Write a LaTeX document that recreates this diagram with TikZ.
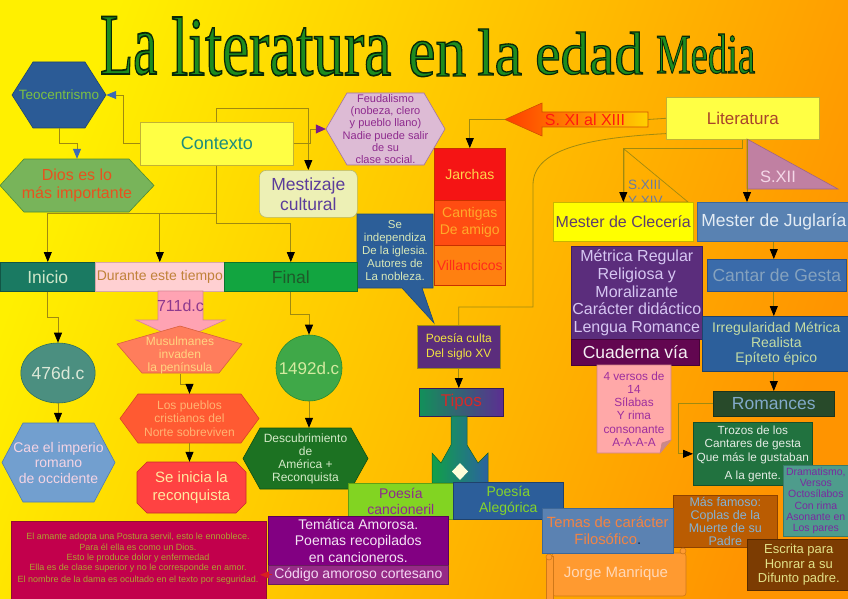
\documentclass[tikz,border=0pt]{standalone}
\usepackage{fontspec}
\setmainfont{Liberation Sans}
\newfontfamily\titlefont{Liberation Serif}
\usetikzlibrary{arrows.meta,shapes.geometric,calc}
\newcommand{\fsz}[2]{\fontsize{#1}{#2}\selectfont}
\newcommand{\tword}[6]{%
 \node[anchor=base west,inner sep=0pt,text=titleG] (#6) at (#1,#2) {\resizebox{#3pt}{#4pt}{\titlefont\fontsize{80}{90}\selectfont\special{pdf:literal direct 2 Tr 1.6 w 0.03 0.16 0.03 RG}\vphantom{l}#5\special{pdf:literal direct 0 Tr}}};}
\definecolor{bgY}{HTML}{FFF000}\definecolor{bgO}{HTML}{FF9400}
\definecolor{lineC}{HTML}{A08A10}
\definecolor{titleG}{HTML}{1E8C1E}
\definecolor{teoF}{HTML}{2B5B96}\definecolor{teoD}{HTML}{1E4470}\definecolor{teoT}{HTML}{7DC142}
\definecolor{diosF}{HTML}{78B45A}\definecolor{diosD}{HTML}{4E8A34}\definecolor{diosT}{HTML}{E8521E}
\definecolor{ctxF}{HTML}{FFFF44}\definecolor{ctxD}{HTML}{C2B234}\definecolor{ctxT}{HTML}{1C8C7C}
\definecolor{feuF}{HTML}{DDBBD5}\definecolor{feuD}{HTML}{A070A0}\definecolor{feuT}{HTML}{8E2A8E}
\definecolor{mesF}{HTML}{EDF0B5}\definecolor{mesD}{HTML}{B8B86A}\definecolor{mesT}{HTML}{5B3C9B}
\definecolor{jarF}{HTML}{F51414}\definecolor{jarD}{HTML}{C83000}\definecolor{jarT}{HTML}{FFD54A}
\definecolor{cgF}{HTML}{FF4C12}\definecolor{cgT}{HTML}{FFAA2A}
\definecolor{vilF}{HTML}{FF8010}\definecolor{vilT}{HTML}{FF2A1A}
\definecolor{seiF}{HTML}{2C5E98}\definecolor{seiD}{HTML}{1E4A7A}\definecolor{seiT}{HTML}{D8E8B8}
\definecolor{iniF}{HTML}{1A7A62}\definecolor{iniT}{HTML}{CFE6C8}
\definecolor{durF}{HTML}{FFD0D2}\definecolor{durD}{HTML}{D8A8A8}\definecolor{durT}{HTML}{C0823A}
\definecolor{finF}{HTML}{12A540}\definecolor{finT}{HTML}{1E5A2A}
\definecolor{sevF}{HTML}{FFA3B3}\definecolor{sevD}{HTML}{D88494}\definecolor{sevT}{HTML}{8E3A8E}
\definecolor{musF}{HTML}{FF7D5C}\definecolor{musD}{HTML}{D8603E}\definecolor{musT}{HTML}{FFD480}
\definecolor{pueF}{HTML}{FF5A32}\definecolor{pueD}{HTML}{D84424}\definecolor{pueT}{HTML}{FFB472}
\definecolor{recF}{HTML}{FF4242}\definecolor{recD}{HTML}{C82A2A}\definecolor{recT}{HTML}{FFE8A0}
\definecolor{cAF}{HTML}{4B8F80}\definecolor{cAD}{HTML}{2E6E60}\definecolor{cAT}{HTML}{DCE8D8}
\definecolor{caeF}{HTML}{729FCF}\definecolor{caeD}{HTML}{4E7CB0}\definecolor{caeT}{HTML}{F4D4E4}
\definecolor{cBF}{HTML}{3FA848}\definecolor{cBD}{HTML}{2A8A30}\definecolor{cBT}{HTML}{D4EAA0}
\definecolor{descF}{HTML}{1C7222}\definecolor{descD}{HTML}{0E5012}\definecolor{descT}{HTML}{D4EAC8}
\definecolor{litT}{HTML}{A8442A}
\definecolor{sxiA}{HTML}{FF3C00}\definecolor{sxiB}{HTML}{FFD000}\definecolor{sxiD}{HTML}{D05000}\definecolor{sxiT}{HTML}{FF1A10}
\definecolor{sxiiiT}{HTML}{6A7CA2}
\definecolor{sxiiF}{HTML}{C080A2}\definecolor{sxiiD}{HTML}{A06484}\definecolor{sxiiT}{HTML}{F4D8E8}
\definecolor{cleF}{HTML}{FFFF00}\definecolor{cleD}{HTML}{C8B400}\definecolor{cleT}{HTML}{5E3E6E}
\definecolor{jugF}{HTML}{5982B2}\definecolor{jugD}{HTML}{3E6898}\definecolor{jugT}{HTML}{E4ECF4}
\definecolor{metF}{HTML}{5B2D7C}\definecolor{metD}{HTML}{42205E}\definecolor{metT}{HTML}{D6C6F2}
\definecolor{cuaF}{HTML}{620650}\definecolor{cuaT}{HTML}{F4F0F4}
\definecolor{verF}{HTML}{FFA8A8}\definecolor{verD}{HTML}{D08484}\definecolor{verT}{HTML}{9E2E9E}\definecolor{verK}{HTML}{C88A8A}
\definecolor{ctF}{HTML}{3A6BAA}\definecolor{ctD}{HTML}{2A5088}\definecolor{ctT}{HTML}{85A2BE}
\definecolor{irrF}{HTML}{2C5F9B}\definecolor{irrT}{HTML}{C4DCA4}
\definecolor{romF}{HTML}{284A2A}\definecolor{romT}{HTML}{82AACA}
\definecolor{troF}{HTML}{21723F}\definecolor{troT}{HTML}{E4ECE4}
\definecolor{draF}{HTML}{4E9C8C}\definecolor{draD}{HTML}{3A7A6A}\definecolor{draT}{HTML}{7A2AA0}
\definecolor{masF}{HTML}{BA5C02}\definecolor{masD}{HTML}{8E4200}\definecolor{masT}{HTML}{84B2D4}
\definecolor{escF}{HTML}{7C3C02}\definecolor{escT}{HTML}{E2E288}
\definecolor{temF}{HTML}{5B82B2}\definecolor{temD}{HTML}{3E6898}\definecolor{temT}{HTML}{F28444}\definecolor{temK}{HTML}{1A2A4A}
\definecolor{jorF}{HTML}{FF9A30}\definecolor{jorD}{HTML}{D07818}\definecolor{jorT}{HTML}{FFD8B8}
\definecolor{pcanF}{HTML}{82D422}\definecolor{pcanD}{HTML}{60A014}\definecolor{pcanT}{HTML}{8E2A8E}
\definecolor{paleF}{HTML}{2C5E9A}\definecolor{paleT}{HTML}{86D42A}
\definecolor{temaF}{HTML}{820082}\definecolor{temaT}{HTML}{F4E4F4}
\definecolor{codF}{HTML}{962A86}\definecolor{codT}{HTML}{F4D8F4}
\definecolor{crimF}{HTML}{C2004C}\definecolor{crimD}{HTML}{901030}\definecolor{crimT}{HTML}{ADA232}
\definecolor{tipL}{HTML}{12905A}\definecolor{tipR}{HTML}{5C2E92}\definecolor{tipT}{HTML}{D42A2A}
\definecolor{forkL}{HTML}{10A048}\definecolor{forkR}{HTML}{2C62A0}
\definecolor{pcT}{HTML}{F2E440}
\definecolor{arrBlue}{HTML}{3A6AB8}\definecolor{arrPurple}{HTML}{7A1A8A}\definecolor{arrRed}{HTML}{D82020}
\begin{document}
\begin{tikzpicture}[x=1pt,y=-1pt,
  conn/.style={draw=lineC, line width=0.8pt},
  arr/.style={conn, -{Triangle[length=10pt,width=8pt,color=black]}},
  bx/.style={rectangle, inner sep=0pt, align=center, line width=0.6pt, anchor=north west},
  tx/.style={inner sep=0pt, align=center},
  shp/.style={line width=0.6pt}]
\useasboundingbox (0,0) rectangle (848,599);
\shade[top color=bgY, bottom color=bgO, shading angle=70] (0,0) rectangle (848,599);

% title
\tword{100}{74}{57}{61}{La}{t1}
\tword{171}{75}{220}{58}{literatura}{t2}
\tword{408}{76}{58}{51}{en}{t3}
\tword{477}{75}{45}{46}{la}{t4}
\tword{535}{74}{108}{42}{edad}{t5}
\tword{656}{73}{99}{39}{Media}{t6}

% Teocentrismo
\path[shp, fill=teoF, draw=teoD] (12,95) -- (33,62) -- (85,62) -- (106,95) -- (85,128) -- (33,128) -- cycle;
\node[tx, minimum width=94pt, minimum height=66pt, text=teoT, font=\fsz{13.5}{15}] (teo) at (59,95) {Teocentrismo};
% Dios
\path[shp, fill=diosF, draw=diosD] (0,185.5) -- (24,159) -- (129,159) -- (154,185.5) -- (129,212) -- (24,212) -- cycle;
\node[tx, minimum width=154pt, minimum height=53pt, text=diosT, font=\fsz{16}{17.5}] (dios) at (77,185.5) {Dios es lo\\más importante};
% Contexto
\node[bx, minimum width=153pt, minimum height=43pt, fill=ctxF, draw=ctxD, text=ctxT, font=\fsz{18}{20}] (ctx) at (140,122) {Contexto};
% Feudalismo
\path[shp, fill=feuF, draw=feuD] (326,129) -- (347,93) -- (424,93) -- (445,129) -- (424,165) -- (347,165) -- cycle;
\node[tx, minimum width=119pt, minimum height=72pt, text=feuT, font=\fsz{11}{12.2}] (feud) at (385.5,129) {Feudalismo\\(nobeza, clero\\y pueblo llano)\\Nadie puede salir\\de su\\clase social.};
% Mestizaje
\node[bx, rounded corners=7pt, minimum width=98pt, minimum height=47pt, fill=mesF, draw=mesD, text=mesT, font=\fsz{17.5}{20}] (mest) at (259,170) {Mestizaje\\cultural};
% Jarchas stack
\node[bx, minimum width=71pt, minimum height=52pt, fill=jarF, draw=jarD, text=jarT, font=\fsz{14}{17}] (jar) at (434,148) {Jarchas};
\node[bx, minimum width=71pt, minimum height=45pt, fill=cgF, draw=jarD, text=cgT, font=\fsz{14}{17}] (cant) at (434,200) {Cantigas\\De amigo};
\node[bx, minimum width=71pt, minimum height=40pt, fill=vilF, draw=jarD, text=vilT, font=\fsz{14}{17}] (vil) at (434,245) {Villancicos};
% callout
\path[shp, fill=seiF, draw=seiD] (357,214) -- (433,214) -- (433,288) -- (422,288) -- (434,323) -- (402,288) -- (357,288) -- cycle;
\node[tx, minimum width=76pt, minimum height=74pt, text=seiT, font=\fsz{11.5}{13}] (sei) at (395,251) {Se\\independiza\\De la iglesia.\\Autores de\\La nobleza.};

% band
\node[bx, minimum width=95pt, minimum height=29pt, fill=iniF, draw=iniF!70!black, text=iniT, font=\fsz{17.5}{20}] (ini) at (0,262) {Inicio};
\node[bx, minimum width=129pt, minimum height=29pt, fill=durF, draw=durD, text=durT, font=\fsz{14}{16}] (dur) at (95,262) {Durante este tiempo};
\node[bx, minimum width=133pt, minimum height=29pt, fill=finF, draw=finF!70!black, text=finT, font=\fsz{17.5}{20}] (fin) at (224,262) {Final};

% 711 arrow
\path[shp, fill=sevF, draw=sevD] (158,291) -- (203,291) -- (203,320) -- (225,320) -- (180,340) -- (136,320) -- (158,320) -- cycle;
\node[tx, text=sevT, font=\fsz{16}{18}] (n711) at (180.5,306) {711d.c};
% Musulmanes
\path[shp, fill=musF, draw=musD] (180,326) -- (242,344) -- (219,373) -- (142,373) -- (117,344) -- cycle;
\node[tx, minimum height=36pt, text=musT, font=\fsz{12}{13}] (mus) at (180,355) {Musulmanes\\invaden\\la península};
% Los pueblos
\path[shp, fill=pueF, draw=pueD] (120,418.5) -- (138,394) -- (241,394) -- (259,418.5) -- (241,443) -- (138,443) -- cycle;
\node[tx, minimum width=139pt, minimum height=49pt, text=pueT, font=\fsz{12}{13.5}] (pue) at (189.5,418.5) {Los pueblos\\cristianos del\\Norte sobreviven};
% Se inicia
\path[shp, fill=recF, draw=recD] (137,472) -- (147,462) -- (236,462) -- (246,472) -- (246,503) -- (236,513) -- (147,513) -- (137,503) -- cycle;
\node[tx, minimum width=109pt, minimum height=51pt, text=recT, font=\fsz{15}{18}] (rec) at (191.5,487.5) {Se inicia la\\reconquista};
% 476
\node[ellipse, inner sep=0pt, minimum width=68pt, minimum height=60pt, fill=cAF, draw=cAD, line width=0.6pt, text=cAT, font=\fsz{17.5}{20}] (c476) at (58,373) {476d.c};
% Cae
\path[shp, fill=caeF, draw=caeD] (2,462.5) -- (23,423) -- (94,423) -- (115,462.5) -- (94,502) -- (23,502) -- cycle;
\node[tx, minimum width=113pt, minimum height=79pt, text=caeT, font=\fsz{14}{15.5}] (cae) at (58.5,462.5) {Cae el imperio\\romano\\de occidente};
% 1492
\node[circle, inner sep=0pt, minimum size=66pt, fill=cBF, draw=cBD, line width=0.6pt, text=cBT, font=\fsz{17}{20}] (c1492) at (309,368) {1492d.c};
% Descubrimiento
\path[shp, fill=descF, draw=descD] (243,458.5) -- (260,428) -- (351,428) -- (368,458.5) -- (351,489) -- (260,489) -- cycle;
\node[tx, minimum width=125pt, minimum height=61pt, text=descT, font=\fsz{12}{13}] (desc) at (305.5,458.5) {Descubrimiento\\de\\América +\\Reconquista};

% Literatura
\node[bx, minimum width=153pt, minimum height=42pt, fill=ctxF, draw=ctxD, text=litT, font=\fsz{17}{20}] (lit) at (666,97) {Literatura};
% S. XI arrow
\shade[left color=sxiA, right color=sxiB, draw=sxiD, line width=0.6pt] (505,119.5) -- (542,103) -- (542,112) -- (648,112) -- (648,127) -- (542,127) -- (542,136) -- cycle;
\coordinate (sxiL) at (505,119.5);
\coordinate (sxiR) at (648,119.5);
\node[tx, text=sxiT, font=\fsz{16}{18}] (sxi) at (585,119.5) {S. XI al XIII};
% S.XIII triangle
\path[draw=lineC, line width=0.7pt] (624,149) -- (688,202) -- (624,202) -- cycle;
\node[inner sep=0pt, align=left, anchor=west, text=sxiiiT, font=\fsz{13.5}{16}] (sxiii) at (628,192.5) {S.XIII\\Y XIV};
% S.XII triangle
\path[shp, fill=sxiiF, draw=sxiiD] (747,139) -- (838,189) -- (747,189) -- cycle;
\coordinate (sxiiA) at (747,139);
\node[tx, text=sxiiT, font=\fsz{16.5}{18}] (sxii) at (778,177) {S.XII};
% Mesters
\node[bx, minimum width=140pt, minimum height=39pt, fill=cleF, draw=cleD, text=cleT, font=\fsz{16}{18}] (cle) at (553,202) {Mester de Clecería};
\node[bx, minimum width=153pt, minimum height=39pt, fill=jugF, draw=jugD, text=jugT, font=\fsz{17.5}{20}] (jug) at (697,202) {Mester de Juglaría};
% Metrica
\node[bx, minimum width=131pt, minimum height=93pt, fill=metF, draw=metD, text=metT, font=\fsz{16}{17.7}] (met) at (571,246) {Métrica Regular\\Religiosa y\\Moralizante\\Carácter didáctico\\Lengua Romance};
\node[bx, minimum width=128pt, minimum height=26pt, fill=cuaF, draw=cuaF!70!black, text=cuaT, font=\fsz{17.5}{20}] (cua) at (571,339) {Cuaderna vía};
% 4 versos note
\path[shp, fill=verF, draw=verD] (597,365) -- (671,365) -- (671,440) -- (660,453) -- (597,453) -- cycle;
\path[shp, fill=verK, draw=verD] (671,440) -- (662,443) -- (660,453) -- cycle;
\node[tx, minimum width=74pt, minimum height=88pt, text=verT, font=\fsz{11.8}{13.3}] (ver) at (634,409) {4 versos de\\14\\Sílabas\\Y rima\\consonante\\A-A-A-A};
% Cantar de gesta etc.
\node[bx, minimum width=139pt, minimum height=32pt, fill=ctF, draw=ctD, text=ctT, font=\fsz{17.5}{20}] (gesta) at (707,259) {Cantar de Gesta};
\node[bx, minimum width=148pt, minimum height=55pt, fill=irrF, draw=irrF!70!black, text=irrT, font=\fsz{14}{15}] (irr) at (702,316) {Irregularidad Métrica\\Realista\\Epíteto épico};
\node[bx, minimum width=121pt, minimum height=25pt, fill=romF, draw=romF!70!black, text=romT, font=\fsz{17.5}{20}] (rom) at (713,391) {Romances};
\node[bx, minimum width=119pt, minimum height=63pt, fill=troF, draw=troF!70!black, text=troT, font=\fsz{11.8}{13.5}] (tro) at (693,422) {Trozos de los\\Cantares de gesta\\Que más le gustaban\\[5pt]A la gente.};
\node[bx, minimum width=65pt, minimum height=71pt, fill=draF, draw=draD, text=draT, font=\fsz{10.5}{11.3}] (dra) at (783,465) {Dramatismo,\\Versos\\Octosílabos\\Con rima\\Asonante en\\Los pares};
\node[bx, minimum width=104pt, minimum height=52pt, fill=masF, draw=masD, text=masT, font=\fsz{12.5}{13}] (mas) at (673,495) {Más famoso:\\Coplas de la\\Muerte de su\\Padre};
\node[bx, minimum width=103pt, minimum height=51pt, fill=escF, draw=escF!70!black, text=escT, font=\fsz{13}{14.5}] (esc) at (747,539) {Escrita para\\Honrar a su\\Difunto padre.};
% Jorge Manrique scroll
\path[shp, fill=jorF, draw=jorD, rounded corners=3pt] (552,553) rectangle (686,596);
\path[shp, fill=jorF, draw=jorD] (546,556) rectangle (553,599);
\path[shp, fill=jorF, draw=jorD] (549,557) circle (3);
\path[shp, fill=jorF, draw=jorD] (683,551) circle (3);
\node[tx, text=jorT, font=\fsz{15}{18}] (jor) at (616,574) {Jorge Manrique};

% Poesia culta, tipos
\node[bx, minimum width=83pt, minimum height=43pt, fill=metF, draw=lineC, text=pcT, font=\fsz{12}{15}] (pc) at (417,325) {Poesía culta\\Del siglo XV};
\node[bx, minimum width=84pt, minimum height=28pt, left color=tipL, right color=tipR, draw=tipR!60!black, text=tipT, font=\fsz{17}{20}] (tipos) at (419,388) {Tipos};
\shade[left color=forkL, right color=forkR, draw=forkL!60!black, line width=0.5pt] (451,416) -- (467,416) -- (467,445) -- (478,463) -- (488,453) -- (488,483) -- (432,483) -- (432,453) -- (441,463) -- (451,445) -- cycle;
\path[fill=white!85!yellow] (460,463) -- (468,471.5) -- (460,480) -- (452,471.5) -- cycle;
\node[bx, minimum width=105pt, minimum height=36pt, fill=pcanF, draw=pcanD, text=pcanT, font=\fsz{14}{16}] (pcan) at (348,483) {Poesía\\cancioneril};
\node[bx, minimum width=110pt, minimum height=37pt, fill=paleF, draw=paleF!70!black, text=paleT, font=\fsz{14}{16}] (pale) at (453,482) {Poesía\\Alegórica};
\node[bx, minimum width=131pt, minimum height=45pt, fill=temF, draw=temD, text=temT, font=\fsz{14.8}{17}] (tem) at (542,508) {Temas de carácter\\Filosófico{\color{temK}.}};
\node[bx, minimum width=180pt, minimum height=49pt, fill=temaF, draw=temaF!70!black, text=temaT, font=\fsz{14}{16.5}] (tema) at (268,516) {Temática Amorosa.\\Poemas recopilados\\en cancioneros.};
\node[bx, minimum width=180pt, minimum height=19pt, fill=codF, draw=codF!70!black, text=codT, font=\fsz{14}{16}] (cod) at (268,565) {Código amoroso cortesano};
\node[bx, minimum width=255pt, minimum height=80pt, fill=crimF, draw=crimD] (crim) at (11,521) {};
\node[tx, text=crimT, font=\fsz{9}{10.2}] (crimt) at (138,559) {El amante adopta una Postura servil, esto le ennoblece.\\Para él ella es como un Dios.\\Esto le produce dolor y enfermedad\\Ella es de clase superior y no le corresponde en amor.\\[2pt]El nombre de la dama es ocultado en el texto por seguridad.};

% connectors
\draw[conn, -{Triangle[length=10pt,width=8pt,color=arrBlue]}] (ctx.west) -- ++(-17,0) |- (teo.east);
\draw[conn, -{Triangle[length=10pt,width=8pt,color=arrBlue]}] (teo.south) -- ++(0,15) -| (dios.north);
\draw[arr] (ctx.north) -- ++(0,-14) -| (mest.north);
\draw[conn, -{Triangle[length=10pt,width=9pt,color=arrPurple]}] (ctx.east) -- ++(17,0) |- (feud.west);
\draw[conn] (ctx.south) -- ++(0,48) coordinate (cb);
\draw[arr] (cb) -| (ini.north);
\draw[arr] (cb) -| (dur.north);
\draw[arr] (cb) -- ++(0,10) -| (fin.north);
\draw[arr] (ini.south) -- ++(0,26) -| (c476.north);
\draw[arr] (c476.south) -- (c476.south |- cae.north);
\draw[arr] (mus.south) -- ++(0,11) -| (pue.north);
\draw[arr] (pue.south) -- (pue.south |- rec.north);
\draw[arr] (fin.south) -- ++(0,23) -| (c1492.north);
\draw[arr] (c1492.south) -- (c1492.south |- desc.north);
\draw[arr] (sxiL) -| (jar.north);
\draw[conn] (sxiR) -- (lit.west);
\draw[conn] ($(lit.south west)+(0,-6)$) .. controls (585,138) and (533,150) .. (533,185) -- (533,307) -| (pc.north);
\draw[arr] (pc.south) -- (pc.south |- tipos.north);
\draw[arr] (lit.south) -- ++(0,9) -| (cle.north);
\draw[arr] (sxiiA) -- (sxiiA |- jug.north);
\draw[arr] (jug.south) -- (jug.south |- gesta.north);
\draw[arr] (jug.south |- gesta.south) -- (jug.south |- irr.north);
\draw[arr] (rom.north |- irr.south) -- (rom.north);
\draw[arr] (rom.west) -- ++(-35,0) |- (tro.west);
\draw[draw=arrRed, line width=0.8pt, -{Triangle[length=9pt,width=7pt,color=arrRed]}] ($(cod.west)+(4,0)$) -- ++(-12,0);
\end{tikzpicture}
\end{document}
